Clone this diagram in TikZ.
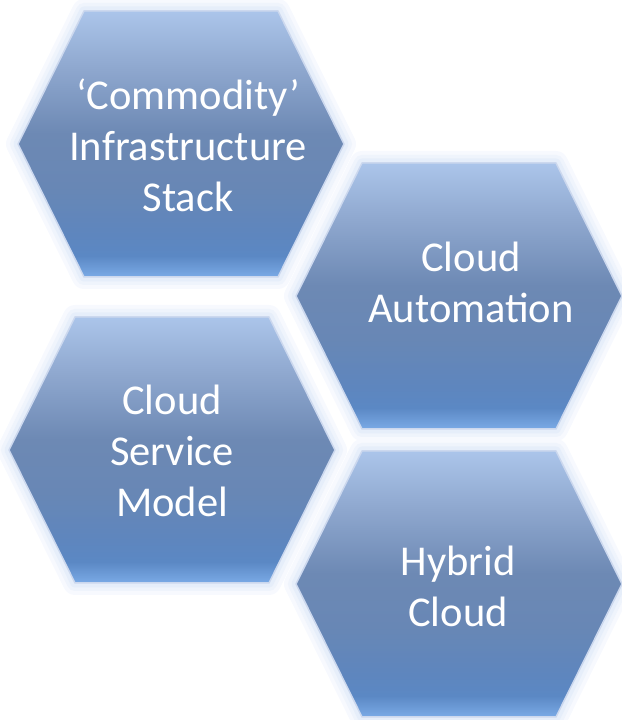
\documentclass[tikz,border=0pt]{standalone}
\usepackage{fontspec}
\setmainfont{Carlito}
\definecolor{hexA}{HTML}{7AAAE6}
\definecolor{hexB}{HTML}{5B88C4}
\definecolor{hexC}{HTML}{5E86BE}
\definecolor{hexD}{HTML}{6887B5}
\definecolor{hexE}{HTML}{6D89B4}
\definecolor{hexF}{HTML}{8EA7CE}
\definecolor{hexG}{HTML}{ABC5EA}
\definecolor{glowA}{HTML}{F7F9FE}
\definecolor{glowB}{HTML}{EFF4FC}
\definecolor{glowC}{HTML}{E6EEFA}
\definecolor{hexrim}{HTML}{CCD8EE}
\pgfdeclareverticalshading{hexfill}{100bp}{color(0bp)=(hexA); color(25bp)=(hexA); color(29bp)=(hexB); color(33bp)=(hexC); color(42bp)=(hexD); color(52bp)=(hexE); color(64bp)=(hexF); color(75bp)=(hexG); color(100bp)=(hexG)}
\newcommand\hexlabel[1]{\begin{tabular}[t]{@{}c@{}}#1\end{tabular}}
\tikzset{
  glowa/.style={draw=glowA, line width=24pt, line join=round},
  glowb/.style={draw=glowB, line width=16pt, line join=round},
  glowc/.style={draw=glowC, line width=9pt, line join=round},
  hexbody/.style={shading=hexfill, draw=hexrim, line width=1.5pt, line join=round},
  hextext/.style={text=white, inner sep=0pt, anchor=base, font=\fontsize{42.5}{51}\selectfont}
}
\begin{document}
\begin{tikzpicture}[x=1pt,y=1pt]
\useasboundingbox (0,0) rectangle (621,720);
\foreach \s in {glowa,glowb,glowc}{
  \foreach \cx/\cy in {181/576, 459/424, 172/270, 459/136}{
    \path[\s] (\cx-163,\cy) -- (\cx-97,\cy+133) -- (\cx+97,\cy+133) -- (\cx+163,\cy) -- (\cx+97,\cy-133) -- (\cx-97,\cy-133) -- cycle;
  }
}
\foreach \cx/\cy in {181/576, 459/424, 172/270, 459/136}{
  \path[hexbody] (\cx-163,\cy) -- (\cx-97,\cy+133) -- (\cx+97,\cy+133) -- (\cx+163,\cy) -- (\cx+97,\cy-133) -- (\cx-97,\cy-133) -- cycle;
}
\node[hextext] (stack) at (188,610) {\hexlabel{‘Commodity’\\Infrastructure\\Stack}};
\node[hextext] (auto) at (471,448) {\hexlabel{Cloud\\Automation}};
\node[hextext] (service) at (172,305) {\hexlabel{Cloud\\Service\\Model}};
\node[hextext] (hybrid) at (458,144) {\hexlabel{Hybrid\\Cloud}};
\end{tikzpicture}
\end{document}
